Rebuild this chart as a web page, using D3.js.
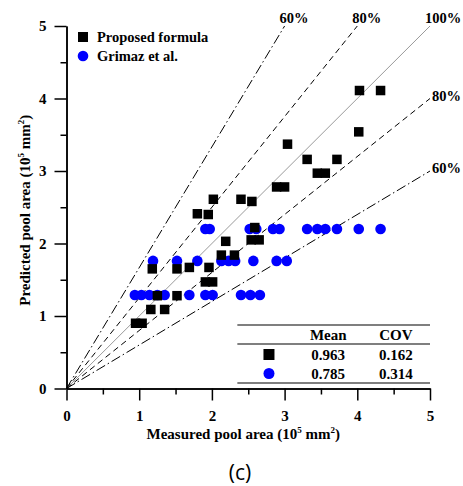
<!DOCTYPE html>
<html>
<head>
<meta charset="utf-8">
<script src="https://cdn.jsdelivr.net/npm/d3@7"></script>
<style>
    body { margin: 0; background: #fff; }
    svg { display: block; }
</style>
</head>
<body>
<div id="chart"></div>
<script>
// Proposed formula (black squares)
var proposedX = [0.95, 1.04, 1.16, 1.35, 1.25, 1.52, 1.18, 1.52, 1.69, 1.96, 1.91, 2.01, 2.13, 2.31, 2.19, 2.54, 2.65,
    2.59, 1.80, 1.95, 2.02, 2.40, 2.55, 2.89, 3.00, 3.04, 3.31, 3.72, 3.45, 3.56, 4.02, 4.03, 4.32];
var proposedY = [0.90, 0.90, 1.09, 1.09, 1.28, 1.28, 1.65, 1.65, 1.67, 1.67, 1.47, 1.47, 1.84, 1.84, 2.03, 2.05, 2.05,
    2.22, 2.41, 2.40, 2.61, 2.61, 2.58, 2.78, 2.78, 3.37, 3.16, 3.16, 2.97, 2.97, 3.54, 4.11, 4.11];

// Grimaz et al. (blue circles)
var grimazX = [0.94, 1.03, 1.14, 1.25, 1.35, 1.69, 1.91, 2.01, 2.40, 2.53, 2.66,
    1.19, 1.52, 1.80, 2.13, 2.23, 2.32, 2.57, 2.89, 3.03,
    1.91, 1.97, 2.52, 2.61, 2.84, 2.93, 3.31, 3.45, 3.56, 3.72, 4.02, 4.32];
var grimazY = [1.29, 1.29, 1.29, 1.29, 1.29, 1.29, 1.29, 1.29, 1.29, 1.29, 1.29,
    1.76, 1.76, 1.76, 1.76, 1.76, 1.76, 1.76, 1.76, 1.76,
    2.20, 2.20, 2.20, 2.20, 2.20, 2.20, 2.20, 2.20, 2.20, 2.20, 2.20, 2.20];

var majorTicks = [0, 1, 2, 3, 4, 5];
var minorTicks = [0.5, 1.5, 2.5, 3.5, 4.5];

// ratio lines: predicted = measured / ratio (upper) or measured * ratio (lower)
var ratioLabels = ['60%', '80%', '100%', '80%', '60%'];
var ratioSlopes = [1 / 0.6, 1 / 0.8, 1, 0.8, 0.6];

var statRows = ['Proposed formula', 'Grimaz et al.'];
var statMean = ['0.963', '0.785'];
var statCov = ['0.162', '0.314'];

var serif = '"Liberation Serif", "Times New Roman", serif';
var width = 463, height = 486;
var margin = { left: 66.5, top: 26, right: 33, bottom: 97.5 };

var svg = d3.select('#chart').append('svg')
    .attr('width', width)
    .attr('height', height);

svg.append('rect').attr('width', width).attr('height', height).attr('fill', '#fff');

var x = d3.scaleLinear().domain([0, 5]).range([margin.left, width - margin.right]);
var y = d3.scaleLinear().domain([0, 5]).range([height - margin.bottom, margin.top]);

function boldText(sel, size) {
    return sel.attr('font-family', serif)
        .attr('font-weight', 'bold')
        .attr('font-size', size);
}

// Ratio lines, clipped to the 5 x 5 box
var lines = svg.append('g');
ratioSlopes.forEach(function (s, i) {
    var xEnd = Math.min(5, 5 / s);
    var yEnd = s * xEnd;
    var dash = null, color = '#000';
    if (s === 1) { color = '#9a9a9a'; }
    else if (Math.abs(s - 1.25) < 0.01 || Math.abs(s - 0.8) < 0.01) { dash = '6,4'; }
    else { dash = '10,3,1.5,3'; }

    lines.append('line')
        .attr('x1', x(0)).attr('y1', y(0))
        .attr('x2', x(xEnd)).attr('y2', y(yEnd))
        .attr('stroke', color)
        .attr('stroke-width', 1)
        .attr('stroke-dasharray', dash);

    var label = boldText(lines.append('text'), '14.5px').text(ratioLabels[i]);
    if (s >= 1) {
        label.attr('x', x(xEnd) - 5).attr('y', y(yEnd) - 3);
    } else {
        label.attr('x', x(xEnd) + 2).attr('y', y(yEnd) + 2);
    }
});

// Axes
svg.append('g')
    .attr('transform', 'translate(0,' + y(0) + ')')
    .call(d3.axisBottom(x).tickValues(minorTicks).tickSize(6).tickSizeOuter(0).tickFormat(''));
svg.append('g')
    .attr('transform', 'translate(0,' + y(0) + ')')
    .call(d3.axisBottom(x).tickValues(majorTicks).tickSize(12).tickSizeOuter(0).tickPadding(10).tickFormat(d3.format('d')));

svg.append('g')
    .attr('transform', 'translate(' + x(0) + ',0)')
    .call(d3.axisLeft(y).tickValues(minorTicks).tickSize(6).tickSizeOuter(0).tickFormat(''));
svg.append('g')
    .attr('transform', 'translate(' + x(0) + ',0)')
    .call(d3.axisLeft(y).tickValues(majorTicks).tickSize(12).tickSizeOuter(0).tickPadding(8).tickFormat(d3.format('d')));

svg.selectAll('.domain').attr('stroke', '#000').attr('stroke-width', 1.5);
svg.selectAll('.tick line').attr('stroke', '#000').attr('stroke-width', 1.5);
boldText(svg.selectAll('.tick text'), '15px').attr('fill', '#000');

// Axis titles
function titleWithUnits(sel, name) {
    sel.append('tspan').text(name + ' (10');
    sel.append('tspan').attr('font-size', '9px').attr('dy', -6).text('5');
    sel.append('tspan').attr('dy', 6).text(' mm');
    sel.append('tspan').attr('font-size', '9px').attr('dy', -6).text('2');
    sel.append('tspan').attr('dy', 6).text(')');
}

var xTitle = boldText(svg.append('text'), '15px')
    .attr('text-anchor', 'middle')
    .attr('x', (x(0) + x(5)) / 2 - 5)
    .attr('y', y(0) + 50);
titleWithUnits(xTitle, 'Measured pool area');

var yTitle = boldText(svg.append('text'), '15px')
    .attr('text-anchor', 'middle')
    .attr('transform', 'translate(30,' + ((y(0) + y(5)) / 2 + 3) + ') rotate(-90)');
titleWithUnits(yTitle, 'Predicted pool area');

// Data points: circles under squares
var sq = 9.5;
svg.append('g').selectAll('circle')
    .data(grimazX)
    .enter().append('circle')
    .attr('cx', function (d) { return x(d); })
    .attr('cy', function (d, i) { return y(grimazY[i]); })
    .attr('r', 5.3)
    .attr('fill', '#0000ff');

svg.append('g').selectAll('rect')
    .data(proposedX)
    .enter().append('rect')
    .attr('x', function (d) { return x(d) - sq / 2; })
    .attr('y', function (d, i) { return y(proposedY[i]) - sq / 2; })
    .attr('width', sq)
    .attr('height', sq)
    .attr('fill', '#000');

// Legend
var legend = svg.append('g').attr('transform', 'translate(83,0)');
statRows.forEach(function (name, i) {
    var cy = 37 + i * 19;
    if (i === 0) {
        legend.append('rect').attr('x', -5).attr('y', cy - 5).attr('width', 10).attr('height', 10).attr('fill', '#000');
    } else {
        legend.append('circle').attr('cx', 0).attr('cy', cy).attr('r', 5.3).attr('fill', '#0000ff');
    }
    boldText(legend.append('text'), '14.5px')
        .attr('x', 14)
        .attr('y', cy + 5)
        .text(name);
});

// Statistics table
var table = svg.append('g');
var tLeft = x(2.35), tRight = x(5);
var colMean = x(3.6), colCov = x(4.53), colSym = x(2.785);
[325, 344, 383].forEach(function (ly) {
    table.append('line')
        .attr('x1', tLeft).attr('x2', tRight)
        .attr('y1', ly).attr('y2', ly)
        .attr('stroke', '#555')
        .attr('stroke-width', 1.3);
});
boldText(table.append('text'), '15px').attr('text-anchor', 'middle')
    .attr('x', colMean).attr('y', 340).text('Mean');
boldText(table.append('text'), '15px').attr('text-anchor', 'middle')
    .attr('x', colCov).attr('y', 340).text('COV');
statMean.forEach(function (m, i) {
    var cy = 354.5 + i * 19;
    if (i === 0) {
        table.append('rect').attr('x', colSym - 5.5).attr('y', cy - 5.5).attr('width', 11).attr('height', 11).attr('fill', '#000');
    } else {
        table.append('circle').attr('cx', colSym).attr('cy', cy).attr('r', 5.5).attr('fill', '#0000ff');
    }
    boldText(table.append('text'), '15px').attr('text-anchor', 'middle')
        .attr('x', colMean).attr('y', cy + 5.5).text(m);
    boldText(table.append('text'), '15px').attr('text-anchor', 'middle')
        .attr('x', colCov).attr('y', cy + 5.5).text(statCov[i]);
});

// Panel label
svg.append('text')
    .attr('font-family', '"Open Sans", "Noto Sans", sans-serif')
    .attr('font-size', '21px')
    .attr('text-anchor', 'middle')
    .attr('x', 240)
    .attr('y', 480)
    .text('(c)');
</script>
</body>
</html>
